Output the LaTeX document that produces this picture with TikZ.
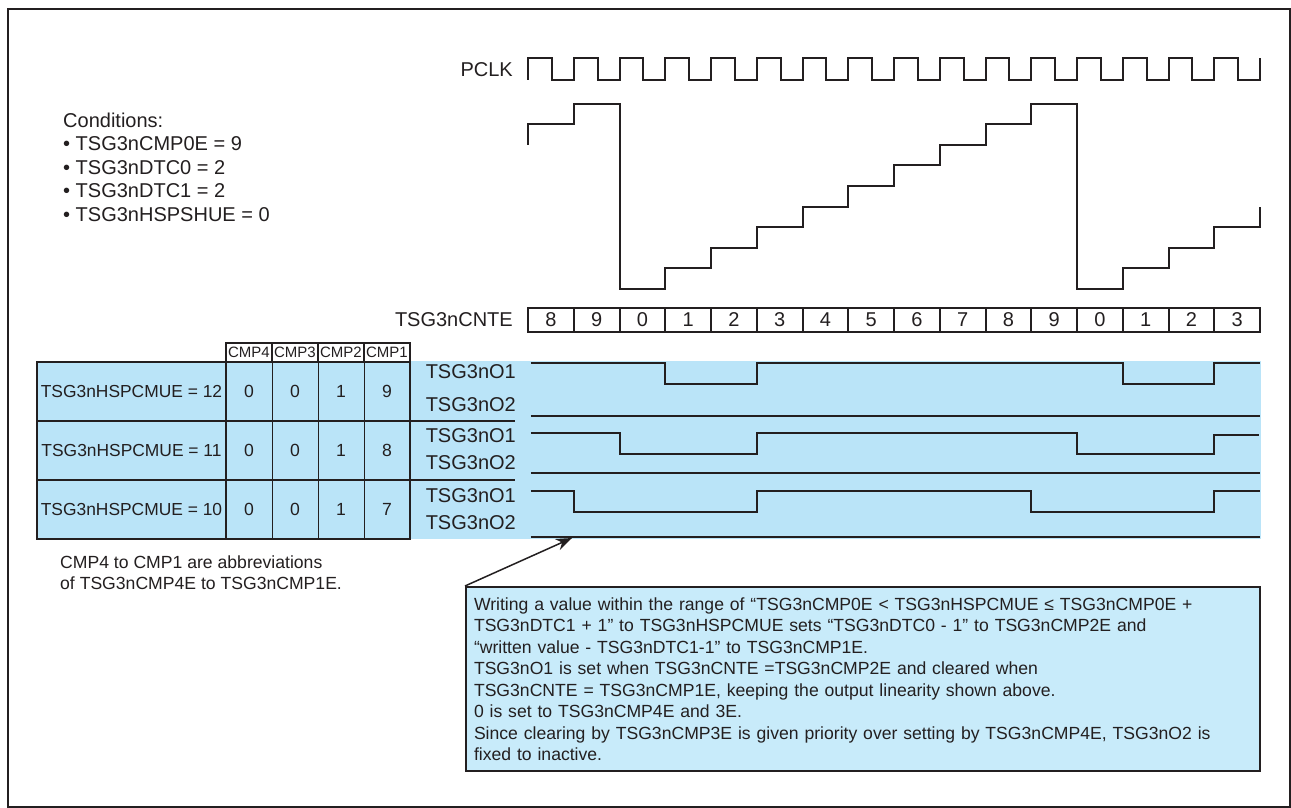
\documentclass[tikz,border=0pt]{standalone}
\usepackage{fontspec}
\setmainfont{Liberation Sans}
\usetikzlibrary{arrows.meta,positioning}
\definecolor{band}{RGB}{186,228,248}
\definecolor{notefill}{RGB}{200,235,250}
\definecolor{ink}{RGB}{35,31,32}
\begin{document}
\begin{tikzpicture}[x=1pt, y=-1pt, >={Stealth[length=16pt,width=12pt]},
        every node/.style={font=\fontsize{17.6}{21.5}\selectfont, text=ink, inner sep=0pt},
        wave/.style={draw=ink, line width=2pt},
        sig/.style={font=\fontsize{20}{24}\selectfont, anchor=east},
        cnt/.style={draw=ink, line width=2pt, minimum width=45.75pt, minimum height=24pt, font=\fontsize{20}{24}\selectfont},
        hdr/.style={font=\fontsize{15}{16}\selectfont},
        rowlab/.style={font=\fontsize{17.4}{20}\selectfont}]
        \useasboundingbox (0,0) rectangle (1291,808);
        \fill[white] (0,0) rectangle (1291,808);
        \draw[ink, line width=1.8pt] (8.2,9.2) rectangle (1289.6,806.6);

        % conditions
        \node[font=\fontsize{20}{23.5}\selectfont, align=left, anchor=north west] (cond) at (63,112.6)
            {Conditions:\\• TSG3nCMP0E = 9\\• TSG3nDTC0 = 2\\• TSG3nDTC1 = 2\\• TSG3nHSPSHUE = 0};

        % blue band behind table and outputs
        \fill[band] (37,361) rectangle (1261,539);

        % signal names
        \node[sig] (pclk) at (513,70) {PCLK};
        \node[sig] (cnte) at (513,320) {TSG3nCNTE};
        \node[sig] (o1a) at (516,372) {TSG3nO1};
        \node[sig] (o2a) at (516,405) {TSG3nO2};
        \node[sig] (o1b) at (516,436) {TSG3nO1};
        \node[sig] (o2b) at (516,463) {TSG3nO2};
        \node[sig] (o1c) at (516,496) {TSG3nO1};
        \node[sig] (o2c) at (516,523) {TSG3nO2};

        % waveforms, one unit = one PCLK cycle
        \begin{scope}[x=45.75pt, shift={(528pt,0pt)}]
            \draw[wave] (0,80) \foreach \i in {0,...,15} { -- (\i,58) -- (\i+0.52,58) -- (\i+0.52,80) -- (\i+1,80) } -- (16,58);
            \draw[wave] (0,144.8) |- (1,124.2) |- (2,103.6) |- (3,289) |- (4,268.4) |- (5,247.8) |- (6,227.2)
                |- (7,206.6) |- (8,186) |- (9,165.4) |- (10,144.8) |- (11,124.2) |- (12,103.6) |- (13,289)
                |- (14,268.4) |- (15,247.8) |- (16,227.2) -- (16,206.6);
            \foreach \v [count=\i from 0] in {8,9,0,1,2,3,4,5,6,7,8,9,0,1,2,3}
                \node[cnt] (cnt\i) at (\i+0.5,320) {\v};
            \draw[wave] (0.06,362.7) -| (3,384) -| (5,362.7) -| (13,384) -| (15,362.7) -- (16,362.7);
            \draw[wave] (0.06,415.7) -- (16,415.7);
            \draw[wave] (0.06,432.7) -| (2,453.5) -| (5,432.7) -| (12,453.5) -| (15,434.5) -- (15.97,434.5);
            \draw[wave] (0.06,472.5) -- (16,472.5);
            \draw[wave] (0.06,490.7) -| (1,511.7) -| (5,490.7) -| (11,511.7) -| (15,490.7) -- (16,490.7);
            \draw[wave] (0.06,537) -- (16,537);
        \end{scope}

        % table
        \draw[ink, line width=2pt, fill=white] (226,343) rectangle (410,362);
        \draw[ink, line width=1.2pt] (272,343) -- (272,362) (318,343) -- (318,362) (364,343) -- (364,362);
        \draw[ink, line width=1pt] (272,362) -- (272,539) (318,362) -- (318,539) (364,362) -- (364,539);
        \draw[ink, line width=1.8pt] (37,421) -- (515,421) (37,480) -- (515,480);
        \draw[ink, line width=2.5pt] (226,362) -- (226,539);
        \draw[ink, line width=2.5pt] (37,362) rectangle (410,539);
        \node[hdr] (h4) at (249,352.5) {CMP4};
        \node[hdr] (h3) at (295,352.5) {CMP3};
        \node[hdr] (h2) at (341,352.5) {CMP2};
        \node[hdr] (h1) at (387,352.5) {CMP1};
        \node[rowlab] (r12) at (131.5,391.5) {TSG3nHSPCMUE = 12};
        \node[rowlab] (r11) at (131.5,450.5) {TSG3nHSPCMUE = 11};
        \node[rowlab] (r10) at (131.5,509.5) {TSG3nHSPCMUE = 10};
        \node (a4) at (249,391.5) {0};
        \node (a3) at (295,391.5) {0};
        \node (a2) at (341,391.5) {1};
        \node (a1) at (387,391.5) {9};
        \node (b4) at (249,450.5) {0};
        \node (b3) at (295,450.5) {0};
        \node (b2) at (341,450.5) {1};
        \node (b1) at (387,450.5) {8};
        \node (c4) at (249,509.5) {0};
        \node (c3) at (295,509.5) {0};
        \node (c2) at (341,509.5) {1};
        \node (c1) at (387,509.5) {7};
        \node[align=left, anchor=west] (foot) at (60,572.7)
            {CMP4 to CMP1 are abbreviations\\of TSG3nCMP4E to TSG3nCMP1E.};

        % callout
        \node[draw=ink, line width=2pt, fill=notefill, align=left, anchor=north west,
            text width=778pt, inner xsep=8pt, inner ysep=10.5pt] (note) at (465,586)
            {Writing a value within the range of “TSG3nCMP0E < TSG3nHSPCMUE ≤ TSG3nCMP0E +\\
            TSG3nDTC1 + 1” to TSG3nHSPCMUE sets “TSG3nDTC0 - 1” to TSG3nCMP2E and\\
            “written value - TSG3nDTC1-1” to TSG3nCMP1E.\\
            TSG3nO1 is set when TSG3nCNTE =TSG3nCMP2E and cleared when\\
            TSG3nCNTE = TSG3nCMP1E, keeping the output linearity shown above.\\
            0 is set to TSG3nCMP4E and 3E.\\
            Since clearing by TSG3nCMP3E is given priority over setting by TSG3nCMP4E, TSG3nO2 is\\
            fixed to inactive.};
        \coordinate (tip) at (572,538);
        \draw[->, ink, line width=1.5pt] (note.north west) -- (tip);
    \end{tikzpicture}
\end{document}
